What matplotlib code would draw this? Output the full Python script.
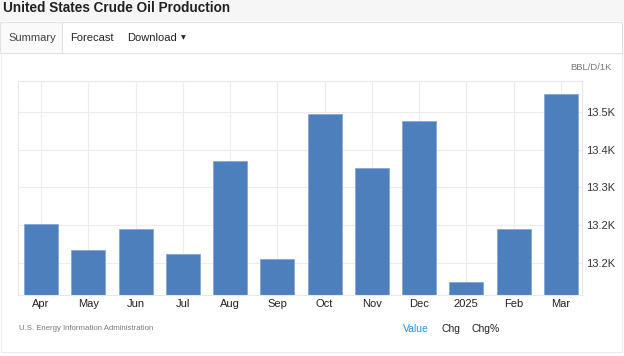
import matplotlib
matplotlib.use("Agg")
import matplotlib.pyplot as plt
from matplotlib.patches import Rectangle
from matplotlib.ticker import FixedLocator

plt.rcParams['font.family'] = ['Liberation Sans', 'DejaVu Sans']

# data (thousand barrels per day)
months = ["Apr", "May", "Jun", "Jul", "Aug", "Sep", "Oct", "Nov", "Dec", "2025", "Feb", "Mar"]
production = [13228, 13176, 13218, 13168, 13353, 13158, 13446, 13339, 13432, 13112, 13218, 13486]
y_ticks = [13150, 13225, 13300, 13375, 13450]
y_tick_labels = ["13.2K", "13.2K", "13.3K", "13.4K", "13.5K"]

W, H = 624, 356
fig = plt.figure(figsize=(W / 100, H / 100), dpi=100)
fig.patch.set_facecolor("white")


def px(x, y):
    # pixel coords (top-left origin) -> figure fraction
    return x / W, 1 - y / H


# page chrome
fig.patches.append(Rectangle((0, 1 - 21 / H), 1, 21 / H, transform=fig.transFigure,
                             facecolor="#f6f6f6", edgecolor="none", zorder=-3))
fig.patches.append(Rectangle(px(1, 352), 621 / W, 299 / H, transform=fig.transFigure,
                             facecolor="white", edgecolor="#ececec", lw=0.8, zorder=-3))
fig.patches.append(Rectangle(px(0, 53), 62 / W, 31 / H, transform=fig.transFigure,
                             facecolor="#fafafa", edgecolor="#e2e2e2", lw=0.8, zorder=-2))
fig.patches.append(Rectangle(px(62, 53), 560 / W, 31 / H, transform=fig.transFigure,
                             facecolor="white", edgecolor="#e2e2e2", lw=0.8, zorder=-2))

fig.text(*px(3, 8), "United States Crude Oil Production", fontsize=9.8, fontweight="bold",
         color="#222222", va="center", ha="left")
fig.text(*px(8, 38), "Summary", fontsize=8, color="#444444", va="center")
fig.text(*px(70, 38), "Forecast", fontsize=8, color="#222222", va="center")
fig.text(*px(127, 38), "Download", fontsize=8, color="#222222", va="center")
fig.text(*px(183, 38), "\u25BC", fontsize=4.5, color="#222222", va="center", ha="center",
         family=["DejaVu Sans"])
fig.text(*px(612, 68), "BBL/D/1K", fontsize=6.8, color="#777777", va="center", ha="right")
fig.text(*px(19, 329), "U.S. Energy Information Administration", fontsize=5.6, color="#777777",
         va="center")
fig.text(*px(403, 329), "Value", fontsize=7.5, color="#2196f3", va="center")
fig.text(*px(441, 329), "Chg", fontsize=7.5, color="#222222", va="center")
fig.text(*px(472, 329), "Chg%", fontsize=7.5, color="#222222", va="center")

# chart
ax = fig.add_axes([18 / W, 1 - 295 / H, (582 - 18) / W, (295 - 81) / H])
ax.set_zorder(2)
ax.set_facecolor("white")
x = range(len(months))
ax.bar(x, production, width=0.72, color="#4d7fbc", edgecolor="#86a8d6", linewidth=0.6, zorder=2)

ax.set_xlim(-0.49, 11.45)
ax.set_ylim(13086.4, 13511.6)
ax.set_xticks(list(x))
ax.set_xticklabels(months, fontsize=8, color="#222222")
ax.yaxis.set_major_locator(FixedLocator(y_ticks))
ax.set_yticklabels(y_tick_labels, fontsize=8, color="#333333")
ax.yaxis.tick_right()
ax.tick_params(axis="both", length=0)
ax.tick_params(axis="x", pad=3)
ax.tick_params(axis="y", pad=3)

ax.grid(True, color="#ececec", linewidth=0.8, zorder=0)
ax.set_axisbelow(True)
for s in ax.spines.values():
    s.set_color("#e8e8e8")
    s.set_linewidth(0.8)

fig.savefig("out.png", dpi=100)
